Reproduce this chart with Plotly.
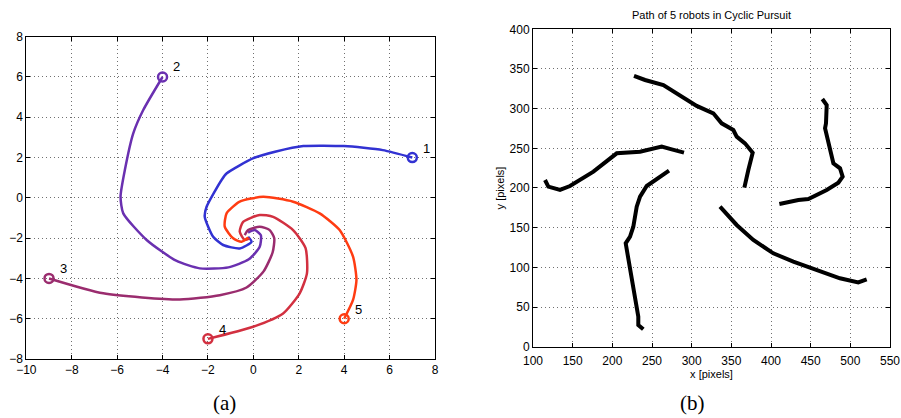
import plotly.graph_objects as go

# ---- Panel (a): simulated cyclic pursuit spiral ----
r1_x = [7.0, 5.7, 4.0, 2.2, 1.0, 0.0, -1.17, -1.4, -2.06, -2.14, -1.77, -1.33, -0.6, -0.08, -0.23]
r1_y = [2.0, 2.37, 2.57, 2.57, 2.3, 1.97, 1.22, 0.89, -0.44, -0.94, -1.93, -2.34, -2.51, -2.18, -1.93]

r2_x = [-4.0, -4.85, -5.29, -5.66, -5.85, -5.73, -4.7, -3.4, -2.36, -1.1, -0.2, 0.28, 0.33, 0.06, -0.23]
r2_y = [6.0, 4.36, 3.2, 1.38, 0.06, -0.77, -2.09, -3.12, -3.5, -3.45, -3.05, -2.43, -1.85, -1.6, -1.72]

r3_x = [-9.0, -6.61, -3.24, -1.48, -0.3, 0.45, 0.85, 0.92, 0.72, 0.28, -0.23, -0.38]
r3_y = [-4.0, -4.74, -5.05, -4.83, -4.45, -3.65, -2.7, -2.0, -1.6, -1.43, -1.6, -1.85]

r4_x = [-2.0, -0.01, 1.31, 2.04, 2.36, 2.3, 1.75, 0.87, 0.28, -0.45, -0.6, -0.38, -0.16]
r4_y = [-7.0, -6.4, -5.74, -4.74, -3.75, -2.5, -1.6, -0.94, -0.85, -1.19, -1.68, -2.09, -2.01]

r5_x = [4.0, 4.39, 4.54, 4.39, 3.8, 2.92, 1.75, 0.43, -0.6, -1.18, -1.26, -0.89, -0.52, -0.23]
r5_y = [-6.0, -5.07, -4.08, -2.92, -1.6, -0.77, -0.19, 0.05, -0.19, -0.77, -1.43, -2.01, -2.18, -1.96]

sim_paths = [(r1_x, r1_y), (r2_x, r2_y), (r3_x, r3_y), (r4_x, r4_y), (r5_x, r5_y)]
sim_colors = ["#3232d2", "#6a30b0", "#9a2c6e", "#d23040", "#ff3c12"]
sim_labels = ["1", "2", "3", "4", "5"]
label_x = [7.63, -3.38, -8.34, -1.38, 4.64]
label_y = [2.47, 6.51, -3.53, -6.51, -5.52]

# ---- Panel (b): measured robot paths (pixels) ----
pA_x = [227.3, 241.2, 264.3, 285.3, 306.3, 327.3, 337.8, 352.5, 356.7, 367.2, 376.9, 371.4, 366.4]
pA_y = [341.2, 336.1, 329.8, 317.2, 303.4, 294.1, 281.5, 273.1, 264.7, 256.3, 244.5, 222.7, 200.4]

pB_x = [115.1, 119.3, 134.0, 146.6, 176.1, 199.2, 205.5, 234.9, 262.2, 274.8, 290.3]
pB_y = [210.1, 201.7, 197.5, 202.5, 220.6, 238.2, 243.7, 245.8, 252.1, 248.7, 244.5]

pC_x = [464.7, 470.2, 469.3, 468.1, 478.6, 487.0, 490.3, 484.9, 470.2, 453.4, 447.1, 434.5, 410.5]
pC_y = [312.2, 304.6, 281.5, 275.2, 231.1, 224.8, 214.3, 206.7, 197.5, 189.1, 186.1, 184.9, 179.8]

pD_x = [271.4, 243.3, 234.9, 230.7, 226.4, 222.3, 216.8, 226.4, 232.7, 232.7, 239.0]
pD_y = [221.8, 202.5, 189.1, 176.5, 151.2, 138.6, 130.3, 71.5, 37.8, 27.3, 21.9]

pE_x = [335.7, 356.7, 377.7, 402.9, 428.1, 461.7, 486.9, 510.0, 520.6]
pE_y = [176.4, 153.4, 134.5, 117.7, 107.1, 94.5, 86.2, 81.1, 84.9]

robot_paths = [(pA_x, pA_y), (pB_x, pB_y), (pC_x, pC_y), (pD_x, pD_y), (pE_x, pE_y)]

SANS = "Liberation Sans"
SERIF = "Liberation Serif"

fig = go.Figure()

for (xs, ys), c in zip(sim_paths, sim_colors):
    fig.add_trace(go.Scatter(x=xs, y=ys, mode="lines",
                             line=dict(color=c, width=2.5, shape="spline", smoothing=0.6),
                             xaxis="x", yaxis="y", showlegend=False, hoverinfo="skip"))
    fig.add_trace(go.Scatter(x=[xs[0]], y=[ys[0]], mode="markers",
                             marker=dict(symbol="circle-open", size=9, color=c, line=dict(width=2.5)),
                             xaxis="x", yaxis="y", showlegend=False, hoverinfo="skip"))

for lab, lx, ly in zip(sim_labels, label_x, label_y):
    fig.add_annotation(x=lx, y=ly, xref="x", yref="y", text=lab, showarrow=False,
                       xanchor="center", yanchor="middle",
                       font=dict(family=SANS, size=13, color="black"))

for xs, ys in robot_paths:
    fig.add_trace(go.Scatter(x=xs, y=ys, mode="lines", line=dict(color="black", width=4),
                             xaxis="x2", yaxis="y2", showlegend=False, hoverinfo="skip"))

axis_common = dict(showline=True, mirror="ticks", linecolor="black", linewidth=1,
                   ticks="inside", ticklen=4, tickcolor="black", automargin=False,
                   showgrid=True, gridcolor="#707070", gridwidth=1, griddash="1px,3px",
                   zeroline=False, tickfont=dict(family=SANS, size=12, color="black"))

W, H = 901, 418
fig.update_layout(
    width=W, height=H,
    margin=dict(l=0, r=0, t=0, b=0),
    paper_bgcolor="white", plot_bgcolor="white",
    xaxis=dict(domain=[0.0292, 0.4828], range=[-10, 8], dtick=2, anchor="y", **axis_common),
    yaxis=dict(domain=[0.1411, 0.9122], range=[-8, 8], dtick=2, anchor="x", **axis_common),
    xaxis2=dict(domain=[0.5916, 0.9878], range=[100, 550], dtick=50, anchor="y2",
                ticklabeloverflow="allow", ticklabelstandoff=3,
                title=dict(text="x [pixels]", font=dict(family=SANS, size=11, color="black"), standoff=1),
                **axis_common),
    yaxis2=dict(domain=[0.1706, 0.9299], range=[0, 400], dtick=50, anchor="x2",
                title=dict(text="y [pixels]", font=dict(family=SANS, size=11, color="black"), standoff=2),
                **axis_common),
)

fig.add_annotation(x=0.7902, y=0.9641, xref="paper", yref="paper", xanchor="center", yanchor="middle",
                   text="Path of 5 robots in Cyclic Pursuit", showarrow=False,
                   font=dict(family=SANS, size=11, color="black"))
fig.add_annotation(x=0.2497, y=0.0359, xref="paper", yref="paper", xanchor="center", yanchor="middle",
                   text="(a)", showarrow=False,
                   font=dict(family=SERIF, size=21, color="black"))
fig.add_annotation(x=0.7691, y=0.0359, xref="paper", yref="paper", xanchor="center", yanchor="middle",
                   text="(b)", showarrow=False,
                   font=dict(family=SERIF, size=21, color="black"))

fig.write_html("out.html",
               config={"displayModeBar": False, "staticPlot": True},
               post_script="document.body.style.margin='0px';document.body.style.overflow='hidden';")
